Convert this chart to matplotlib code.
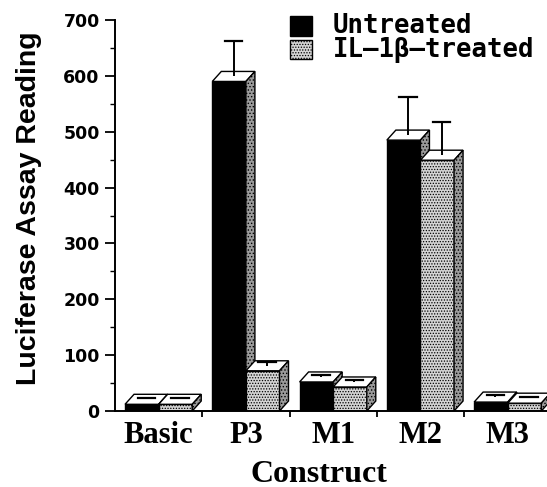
import matplotlib
matplotlib.use("Agg")
import matplotlib.pyplot as plt
from matplotlib.patches import Polygon, Rectangle
import numpy as np

categories = ["Basic", "P3", "M1", "M2", "M3"]
untreated = [12, 590, 52, 485, 16]
treated = [12, 72, 43, 449, 14]
untreated_err = [11, 72, 13, 77, 13]
treated_err = [11, 16, 12, 68, 11]
series_names = ["Untreated", "IL\u20131\u03b2\u2013treated"]
yticks = [0, 100, 200, 300, 400, 500, 600, 700]

plt.rcParams['hatch.linewidth'] = 0.6

W, H = 547, 487
fig = plt.figure(figsize=(W / 100, H / 100), dpi=100)
L, R, B, T = 115, 547, 411, 20
ax = fig.add_axes([L / W, 1 - B / H, (R - L) / W, (B - T) / H])
ax.set_xlim(-0.5, 4.45)
ax.set_ylim(0, 700)

# depth offsets (pixel-derived, converted to data units)
px_x = (4.45 + 0.5) / (R - L)
px_y = 700 / (B - T)
dx = 9 * px_x
dy = 10 * px_y
w = 0.385

x = np.arange(len(categories))

def draw_bar(x0, h, err, front_color, hatch, side_color):
    ax.bar(x0, h, width=w, align='edge', color=front_color,
           edgecolor='black', linewidth=1.0, hatch=hatch, zorder=3)
    top = Polygon([[x0, h], [x0 + dx, h + dy], [x0 + w + dx, h + dy], [x0 + w, h]],
                  closed=True, facecolor='white', edgecolor='black', linewidth=1.0, zorder=3)
    side = Polygon([[x0 + w, 0], [x0 + w + dx, dy], [x0 + w + dx, h + dy], [x0 + w, h]],
                   closed=True, facecolor=side_color, edgecolor='black', linewidth=1.0,
                   hatch='.....', zorder=3)
    ax.add_patch(top)
    ax.add_patch(side)
    ex = x0 + w / 2 + dx / 2
    ax.plot([ex, ex], [h + dy / 2, h + err], color='black', lw=1.4, zorder=4,
            solid_capstyle='butt')
    ax.plot([ex - 0.1, ex + 0.1], [h + err, h + err], color='black', lw=1.6, zorder=4)

for i in range(len(categories)):
    draw_bar(x[i] - w, untreated[i], untreated_err[i], 'black', None, '#9a9a9a')
    draw_bar(x[i], treated[i], treated_err[i], '#d4d4d4', '......', '#9a9a9a')

for s in ['top', 'right']:
    ax.spines[s].set_visible(False)
for s in ['left', 'bottom']:
    ax.spines[s].set_linewidth(1.4)
    ax.spines[s].set_zorder(5)

ax.set_yticks(yticks)
ax.set_yticks(np.arange(50, 700, 100), minor=True)
ax.tick_params(axis='y', which='major', length=7, width=1.3, direction='out', pad=4,
               labelsize=12.5)
ax.tick_params(axis='y', which='minor', length=3.5, width=1.0, direction='out')
for lab in ax.get_yticklabels():
    lab.set_fontfamily('DejaVu Sans')
    lab.set_fontweight('bold')

ax.set_xticks(x)
ax.set_xticklabels(categories, fontfamily='Liberation Serif', fontweight='bold', fontsize=22)
ax.set_xticks(x[:-1] + 0.5, minor=True)
ax.tick_params(axis='x', which='major', length=0, pad=7)
ax.tick_params(axis='x', which='minor', length=4, width=1.3, direction='out')

ax.set_ylabel("Luciferase Assay Reading", fontfamily='Liberation Sans', fontweight='bold',
              fontsize=20.5)
ax.yaxis.set_label_coords((42 - L) / (R - L), (B - 208) / (B - T))
ax.set_xlabel("Construct", fontfamily='Liberation Serif', fontweight='bold', fontsize=23)
ax.xaxis.set_label_coords((319 - L) / (R - L), (B - 474) / (B - T))
ax.xaxis.label.set_va('center')

# legend drawn manually
def axfx(px):
    return (px - L) / (R - L)
def axfy(py):
    return (B - py) / (B - T)

ax.add_patch(Rectangle((axfx(290), axfy(36)), axfx(312) - axfx(290), axfy(16) - axfy(36),
                       transform=ax.transAxes, facecolor='black', edgecolor='black',
                       clip_on=False, zorder=6))
ax.add_patch(Rectangle((axfx(290), axfy(59)), axfx(312) - axfx(290), axfy(40) - axfy(59),
                       transform=ax.transAxes, facecolor='#d4d4d4', edgecolor='black',
                       hatch='......', clip_on=False, zorder=6))
ax.text(axfx(333), axfy(26), series_names[0], transform=ax.transAxes, ha='left', va='center',
        fontfamily='DejaVu Sans Mono', fontweight='bold', fontsize=18.5, clip_on=False)
ax.text(axfx(333), axfy(50), series_names[1], transform=ax.transAxes, ha='left', va='center',
        fontfamily='DejaVu Sans Mono', fontweight='bold', fontsize=18.5, clip_on=False)

fig.savefig("out.png", dpi=100)
